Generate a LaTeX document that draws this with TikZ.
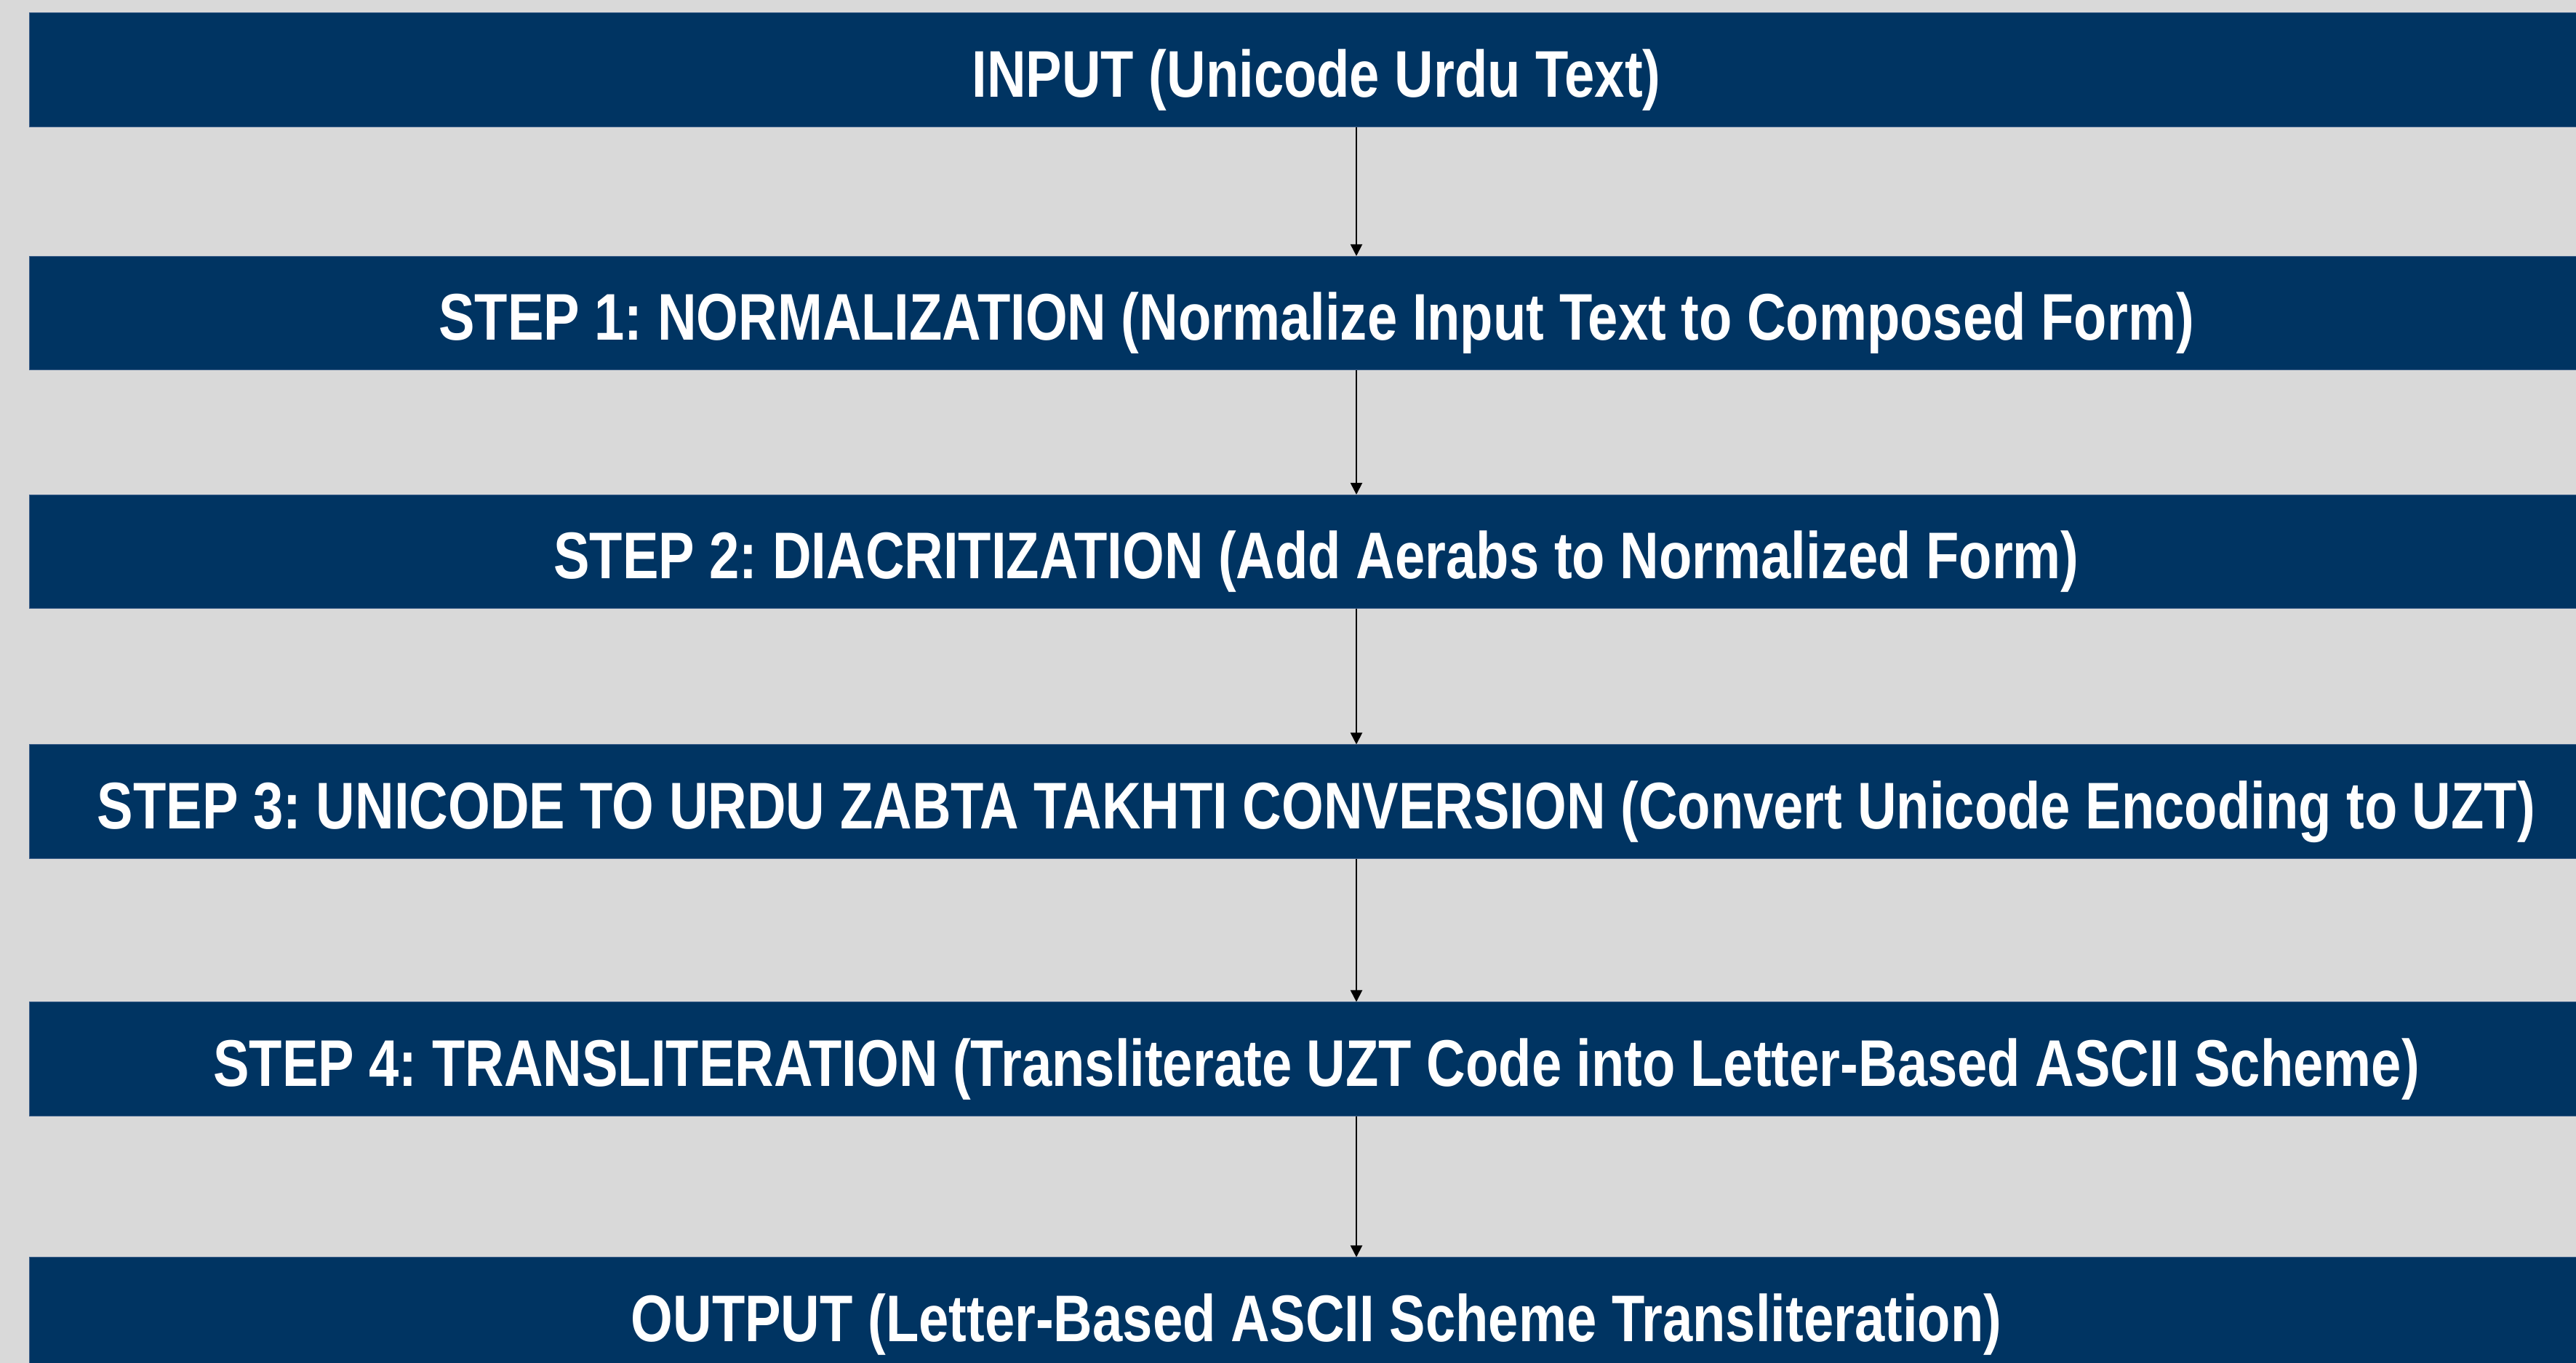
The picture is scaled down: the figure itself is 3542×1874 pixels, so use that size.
\documentclass[tikz,border=0pt]{standalone}
\usepackage{fontspec}
\newfontfamily\barfont{Liberation Sans}[FakeStretch=0.818]
\usetikzlibrary{arrows.meta}

\definecolor{pagegray}{RGB}{217,217,217}
\definecolor{barblue}{RGB}{0,52,98}
\definecolor{baredge}{RGB}{62,96,138}

\tikzset{
  stagebar/.style={
    fill=barblue, draw=baredge, line width=0.01cm,
    minimum width=35.36cm, minimum height=1.56cm, inner sep=0pt,
    text=white, text height=0.74cm, text depth=0cm,
    font=\barfont\bfseries\frenchspacing\fontsize{25.8pt}{30pt}\selectfont
  },
  flow/.style={
    draw=black, line width=0.02cm,
    -{Triangle[width=0.16cm,length=0.16cm]}
  }
}

\begin{document}
\begin{tikzpicture}[x=0.01cm, y=-0.01cm]
  % page area and background
  \useasboundingbox (0,0) rectangle (3542,1874);
  \fill[pagegray] (0,0) rectangle (3542,1874);
  \clip (0,0) rectangle (3542,1874);

  % pipeline stages
  \node[stagebar] (input) at (1810,96)   {INPUT (Unicode Urdu Text)};
  \node[stagebar] (norm)  at (1810,430.5) {STEP 1: NORMALIZATION (Normalize Input Text to Composed Form)};
  \node[stagebar] (diac)  at (1810,758.5) {STEP 2: DIACRITIZATION (Add Aerabs to Normalized Form)};
  \node[stagebar] (uzt)   at (1810,1102) {STEP 3: UNICODE TO URDU ZABTA TAKHTI CONVERSION (Convert Unicode Encoding to UZT)};
  \node[stagebar] (trans) at (1810,1456) {STEP 4: TRANSLITERATION (Transliterate UZT Code into Letter-Based ASCII Scheme)};
  \node[stagebar] (output) at (1810,1807) {OUTPUT (Letter-Based ASCII Scheme Transliteration)};

  % vertical spine of the connectors
  \coordinate (spine) at (1865,0);

  \draw[flow] (input.south -| spine) -- (norm.north -| spine);
  \draw[flow] (norm.south -| spine)  -- (diac.north -| spine);
  \draw[flow] (diac.south -| spine)  -- (uzt.north -| spine);
  \draw[flow] (uzt.south -| spine)   -- (trans.north -| spine);
  \draw[flow] (trans.south -| spine) -- (output.north -| spine);
\end{tikzpicture}
\end{document}
